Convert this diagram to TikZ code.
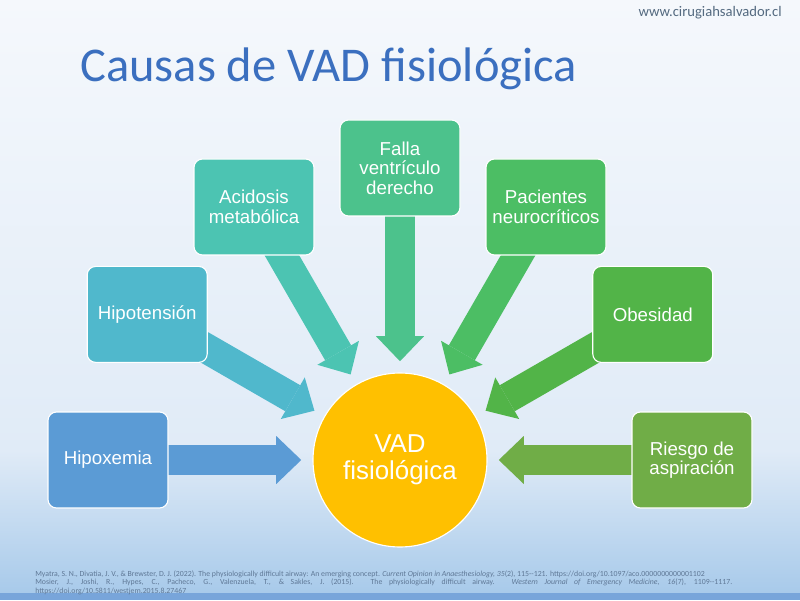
\documentclass[tikz,border=0pt]{standalone}
\usepackage{fontspec}
\setsansfont{Liberation Sans}
\newfontfamily\calibrifont{Carlito}
\usetikzlibrary{backgrounds,arrows.meta}
\definecolor{chipox}{RGB}{91,155,213}
\definecolor{chipot}{RGB}{80,184,204}
\definecolor{cacid}{RGB}{76,196,178}
\definecolor{cfalla}{RGB}{76,194,140}
\definecolor{cneuro}{RGB}{76,190,100}
\definecolor{cobes}{RGB}{82,180,72}
\definecolor{caspir}{RGB}{112,173,71}
\definecolor{cgold}{RGB}{255,192,0}
\definecolor{ctitle}{RGB}{59,111,191}
\definecolor{curl}{RGB}{84,106,128}
\definecolor{cref}{RGB}{95,120,150}
\definecolor{bgtop}{RGB}{245,248,252}
\definecolor{bgmid}{RGB}{224,235,247}
\definecolor{bglow}{RGB}{168,202,234}
\definecolor{bgband}{RGB}{120,165,218}

\begin{document}
\begin{tikzpicture}[
    cause/.style={draw=white, rounded corners=6pt, minimum width=3cm, minimum height=2.4cm,
                  line width=0.8pt, font=\sffamily\fontsize{13.3}{13.8}\selectfont,
                  text=white, align=center},
    hub/.style={circle, draw=white, line width=0.8pt, fill=cgold, minimum size=4.35cm,
                inner sep=0pt, font=\sffamily\fontsize{18.4}{19.5}\selectfont,
                text=white, align=center},
    feed/.style={line width=0.75cm, -{Triangle[width=1.2cm, length=0.625cm, line width=0pt]},
                 shorten >=0.28cm}
  ]
  \node[hub] (vad) at (10,3.5) {VAD\\ fisiológica};

  \node[cause, fill=chipox] (hipox) at (2.7,3.5) {Hipoxemia};
  \node[cause, fill=chipot] (hipot) at (3.68,7.14) {Hipotensión};
  \node[cause, fill=cacid] (acid) at (6.35,9.825) {Acidosis\\ metabólica};
  \node[cause, fill=cfalla] (falla) at (10,10.8) {Falla\\ ventrículo\\ derecho};
  \node[cause, fill=cneuro] (neuro) at (13.65,9.825) {Pacientes\\ neurocríticos};
  \node[cause, fill=cobes] (obes) at (16.32,7.14) {Obesidad};
  \node[cause, fill=caspir] (aspir) at (17.3,3.5) {Riesgo de\\ aspiración};

  \node[anchor=base west, inner sep=0pt, text=ctitle, font=\calibrifont\fontsize{34.5}{40}\selectfont]
    (title) at (2.0,12.95) {Causas de VAD fisiológica};
  \node[anchor=base east, inner sep=0pt, text=curl, font=\calibrifont\fontsize{10.4}{12}\selectfont]
    (url) at (19.55,14.575) {www.cirugiahsalvador.cl};

  \node[anchor=north west, inner sep=0pt, text width=17.425cm, align=justify, text=cref,
        font=\calibrifont\fontsize{5.55}{4.3}\selectfont] (refs) at (0.875,0.74) {%
    Myatra, S. N., Divatia, J. V., \& Brewster, D. J. (2022). The physiologically difficult airway: An emerging concept. \textit{Current Opinion in Anaesthesiology, 35}(2), 115--121. https://doi.org/10.1097/aco.0000000000001102\par
    Mosier, J., Joshi, R., Hypes, C., Pacheco, G., Valenzuela, T., \& Sakles, J. (2015). The physiologically difficult airway. \textit{Western Journal of Emergency Medicine, 16}(7), 1109--1117.\linebreak https://doi.org/10.5811/westjem.2015.8.27467};

  \begin{scope}[on background layer]
    \shade[top color=bgtop, bottom color=bgmid] (0,3.75) rectangle (20,15);
    \shade[top color=bgmid, bottom color=bglow] (0,0.18) rectangle (20,3.75);
    \fill[bgband] (0,0) rectangle (20,0.18);

    \draw[feed, chipox] (hipox.center) -- (vad);
    \draw[feed, chipot] (hipot.center) -- (vad);
    \draw[feed, cacid] (acid.center) -- (vad);
    \draw[feed, cfalla] (falla.center) -- (vad);
    \draw[feed, cneuro] (neuro.center) -- (vad);
    \draw[feed, cobes] (obes.center) -- (vad);
    \draw[feed, caspir] (aspir.center) -- (vad);
  \end{scope}
\end{tikzpicture}
\end{document}
